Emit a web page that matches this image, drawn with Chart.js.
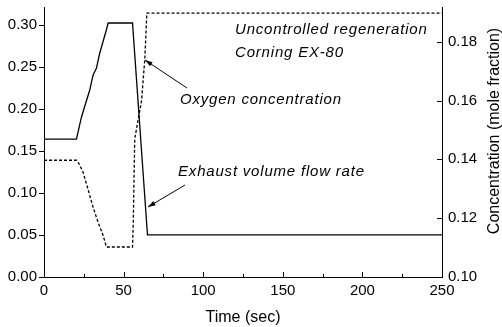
<!DOCTYPE html>
<html>
<head>
<meta charset="utf-8">
<script src="https://cdn.jsdelivr.net/npm/chart.js@4/dist/chart.umd.min.js"></script>
<style>
    html, body { margin: 0; padding: 0; background: #fff; }
</style>
</head>
<body>
<canvas id="regenChart" width="502" height="327"></canvas>
<script>
(function() {
    "use strict";

    // exhaust volume flow rate (left axis)
    var flowTime = [0, 20.4, 23.5, 25.6, 28.7, 30.8, 32.9, 35, 37.1, 39.2, 40.3, 55.6, 65, 250];
    var flowValue = [0.164, 0.164, 0.19, 0.203, 0.222, 0.24, 0.248, 0.266, 0.28, 0.294, 0.302, 0.302, 0.05, 0.05];

    // oxygen concentration (right axis)
    var o2Time = [0, 20.4, 22, 24.5, 27.7, 30.8, 33.9, 37.1, 39.2, 55.6, 56.1, 57, 61.3, 63.3, 64.6, 250];
    var o2Value = [0.1397, 0.1397, 0.1385, 0.1357, 0.1297, 0.1238, 0.1187, 0.1142, 0.1102, 0.1102, 0.119, 0.147, 0.16, 0.174, 0.1897, 0.1897];

    var xTicks = [0, 50, 100, 150, 200, 250];
    var xMinorTicks = [25, 75, 125, 175, 225];
    var leftTicks = [0, 0.05, 0.10, 0.15, 0.20, 0.25, 0.30];
    var rightTicks = [0.10, 0.12, 0.14, 0.16, 0.18];

    var notes = [
        { text: "Uncontrolled regeneration", t: 120, v: 0.2937 },
        { text: "Corning EX-80", t: 120, v: 0.2663 },
        { text: "Oxygen concentration", t: 85.4, v: 0.2104 },
        { text: "Exhaust volume flow rate", t: 84.2, v: 0.1248 }
    ];

    var arrows = [
        { fromT: 89.8, fromV: 0.2247, toT: 63.4, toV: 0.258 },
        { fromT: 88.6, fromV: 0.1094, toT: 65.3, toV: 0.0832 }
    ];

    var FONT = "'Liberation Sans', Arial, sans-serif";

    function toPoints(xs, ys) {
        return xs.map(function(x, i) {
            return { x: x, y: ys[i] };
        });
    }

    function fixedTicks(list) {
        return function(scale) {
            scale.ticks = list.map(function(v) {
                return { value: v };
            });
        };
    }

    function fitBox(size) {
        return function(scale) {
            if (scale.isHorizontal()) {
                scale.height = size;
            } else {
                scale.width = size;
            }
            scale.paddingTop = 0;
            scale.paddingBottom = 0;
            scale.paddingLeft = 0;
            scale.paddingRight = 0;
        };
    }

    var framePlugin = {
        id: "frame",
        afterDraw: function(chart) {
            var ctx = chart.ctx;
            var area = chart.chartArea;
            var xs = chart.scales.x;
            var yl = chart.scales.y;
            var yr = chart.scales.y1;

            ctx.save();
            ctx.strokeStyle = "#000";
            ctx.lineWidth = 1;
            ctx.beginPath();

            leftTicks.forEach(function(v) {
                var y = Math.round(yl.getPixelForValue(v)) + 0.5;
                ctx.moveTo(area.left - 5, y);
                ctx.lineTo(area.left, y);
            });
            rightTicks.forEach(function(v) {
                var y = Math.round(yr.getPixelForValue(v)) + 0.5;
                ctx.moveTo(area.right, y);
                ctx.lineTo(area.right - 5, y);
            });
            xTicks.forEach(function(v) {
                var x = Math.round(xs.getPixelForValue(v)) + 0.5;
                ctx.moveTo(x, area.bottom);
                ctx.lineTo(x, area.bottom - 5);
            });
            xMinorTicks.forEach(function(v) {
                var x = Math.round(xs.getPixelForValue(v)) + 0.5;
                ctx.moveTo(x, area.bottom);
                ctx.lineTo(x, area.bottom - 3);
            });
            ctx.stroke();

            // arrows
            arrows.forEach(function(a) {
                var x1 = xs.getPixelForValue(a.fromT);
                var y1 = yl.getPixelForValue(a.fromV);
                var x2 = xs.getPixelForValue(a.toT);
                var y2 = yl.getPixelForValue(a.toV);
                var ang = Math.atan2(y2 - y1, x2 - x1);
                ctx.beginPath();
                ctx.moveTo(x1, y1);
                ctx.lineTo(x2, y2);
                ctx.stroke();
                ctx.beginPath();
                ctx.moveTo(x2, y2);
                ctx.lineTo(x2 - 8 * Math.cos(ang - 0.3), y2 - 8 * Math.sin(ang - 0.3));
                ctx.lineTo(x2 - 8 * Math.cos(ang + 0.3), y2 - 8 * Math.sin(ang + 0.3));
                ctx.closePath();
                ctx.fillStyle = "#000";
                ctx.fill();
            });

            // annotation text
            ctx.fillStyle = "#000";
            ctx.font = "italic 15px " + FONT;
            ctx.letterSpacing = "0.8px";
            ctx.textAlign = "left";
            ctx.textBaseline = "middle";
            notes.forEach(function(n) {
                ctx.fillText(n.text, xs.getPixelForValue(n.t), yl.getPixelForValue(n.v));
            });
            ctx.letterSpacing = "0px";

            // right axis title, reading bottom to top
            ctx.font = "16px " + FONT;
            ctx.textAlign = "center";
            ctx.translate(495, 131);
            ctx.rotate(-Math.PI / 2);
            ctx.fillText("Concentration (mole fraction)", 0, 0);
            ctx.restore();
        }
    };

    var tickFont = { family: FONT, size: 15 };

    new Chart(document.getElementById("regenChart").getContext("2d"), {
        type: "line",
        data: {
            datasets: [{
                    label: "Exhaust volume flow rate",
                    data: toPoints(flowTime, flowValue),
                    yAxisID: "y",
                    borderColor: "#000",
                    borderWidth: 1.3,
                    pointRadius: 0,
                    fill: false,
                    tension: 0
                },
                {
                    label: "Oxygen concentration",
                    data: toPoints(o2Time, o2Value),
                    yAxisID: "y1",
                    borderColor: "#000",
                    borderWidth: 1.3,
                    borderDash: [3, 2],
                    pointRadius: 0,
                    fill: false,
                    tension: 0
                }
            ]
        },
        options: {
            responsive: false,
            animation: false,
            devicePixelRatio: 1,
            layout: {
                padding: { top: 7, right: 0, left: 0, bottom: 0 }
            },
            plugins: {
                legend: { display: false },
                tooltip: { enabled: false }
            },
            scales: {
                x: {
                    type: "linear",
                    min: 0,
                    max: 250,
                    afterBuildTicks: fixedTicks(xTicks),
                    afterFit: fitBox(50),
                    grid: { display: false, drawTicks: false },
                    border: { display: true, color: "#000", width: 1 },
                    ticks: {
                        color: "#000",
                        font: tickFont,
                        padding: 5,
                        maxRotation: 0
                    },
                    title: {
                        display: true,
                        text: "Time (sec)",
                        color: "#000",
                        font: { family: FONT, size: 16 },
                        padding: { top: 0, bottom: 0 }
                    }
                },
                y: {
                    position: "left",
                    min: 0,
                    max: 0.321,
                    afterBuildTicks: fixedTicks(leftTicks),
                    afterFit: fitBox(44),
                    grid: { display: false, drawTicks: false },
                    border: { display: true, color: "#000", width: 1 },
                    ticks: {
                        color: "#000",
                        font: tickFont,
                        padding: 7,
                        callback: function(v) { return Number(v).toFixed(2); }
                    }
                },
                y1: {
                    position: "right",
                    min: 0.10,
                    max: 0.1918,
                    afterBuildTicks: fixedTicks(rightTicks),
                    afterFit: fitBox(60),
                    grid: { display: false, drawTicks: false },
                    border: { display: true, color: "#000", width: 1 },
                    ticks: {
                        color: "#000",
                        font: tickFont,
                        padding: 6,
                        callback: function(v) { return Number(v).toFixed(2); }
                    }
                }
            }
        },
        plugins: [framePlugin]
    });
})();
</script>
</body>
</html>
